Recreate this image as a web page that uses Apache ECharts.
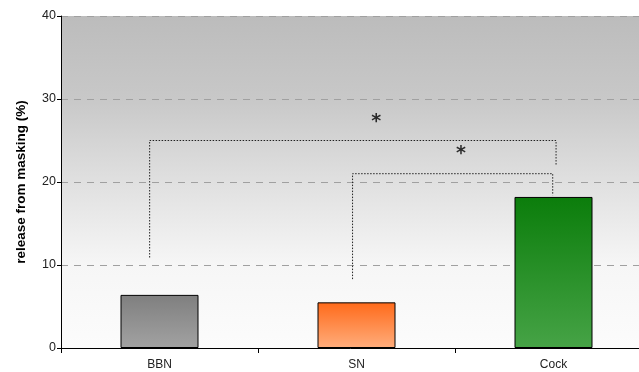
<!DOCTYPE html>
<html>
<head>
<meta charset="utf-8">
<script src="https://cdn.jsdelivr.net/npm/echarts@6/dist/echarts.min.js"></script>
<style>html,body{margin:0;padding:0;background:#fff}#c{width:639px;height:372px}</style>
</head>
<body>
<div id="c"></div>
<script>
var categories = ['BBN', 'SN', 'Cock'];
var values = [6.4, 5.5, 18.2];
var barTop = ['#7f7f7f', '#ff6a1a', '#0b7d0b'];
var barBottom = ['#a2a2a2', '#ffad7c', '#46a346'];
var yTicks = [0, 10, 20, 30, 40];
// significance brackets in (category index, value) units
var bracketOuter = [[-0.05, 10.9], [-0.05, 25], [2.013, 25], [2.013, 22]];
var bracketInner = [[0.98, 8.3], [0.98, 21], [1.996, 21], [1.996, 18.4]];
var stars = [[1.1, 27.7], [1.53, 23.8]];

var chart = echarts.init(document.getElementById('c'), null, {renderer: 'canvas'});
var G = echarts.graphic;
var font = 'Liberation Sans, Arial, sans-serif';

var barData = values.map(function (v, i) {
  return {
    value: v,
    itemStyle: {
      color: new G.LinearGradient(0, 0, 0, 1, [
        {offset: 0, color: barTop[i]},
        {offset: 1, color: barBottom[i]}
      ]),
      borderColor: '#000',
      borderWidth: 1
    }
  };
});

function bracketSeries(pts) {
  return {
    type: 'line',
    xAxisIndex: 1,
    data: pts,
    symbol: 'none',
    silent: true,
    animation: false,
    lineStyle: {color: '#222', width: 1, type: [1.5, 1.5]},
    z: 5
  };
}

chart.setOption({
  animation: false,
  grid: {
    left: 61, width: 591, top: 16, bottom: 24,
    outerBoundsMode: 'none',
    containLabel: false,
    show: true,
    borderWidth: 0,
    backgroundColor: new G.LinearGradient(0, 0, 0, 1, [
      {offset: 0, color: '#bcbcbc'},
      {offset: 0.25, color: '#c8c8c8'},
      {offset: 0.5, color: '#e0e0e0'},
      {offset: 0.75, color: '#f6f6f6'},
      {offset: 1, color: '#fcfcfc'}
    ])
  },
  xAxis: [{
    type: 'category',
    data: categories,
    boundaryGap: true,
    axisLine: {onZero: false, lineStyle: {color: '#000', width: 1}},
    axisTick: {show: true, length: 5, lineStyle: {color: '#000'}},
    axisLabel: {color: '#222', fontSize: 12, fontFamily: font, margin: 11}
  }, {
    type: 'value', min: -0.5, max: 2.5, show: false
  }],
  yAxis: {
    type: 'value',
    min: yTicks[0], max: yTicks[yTicks.length - 1], interval: 10,
    name: 'release from masking (%)',
    nameLocation: 'middle',
    nameGap: 33,
    nameTextStyle: {color: '#000', fontSize: 13.5, fontWeight: 'bold', fontFamily: font},
    axisLine: {show: true, onZero: false, lineStyle: {color: '#000', width: 1}},
    axisTick: {show: true, length: 4, lineStyle: {color: '#000'}},
    axisLabel: {color: '#222', fontSize: 12.5, fontFamily: font, margin: 5},
    splitLine: {show: true, lineStyle: {color: '#a0a0a0', width: 1, type: [7, 6]}}
  },
  series: [{
    type: 'bar',
    data: barData,
    barWidth: 78,
    z: 3
  },
  bracketSeries(bracketOuter),
  bracketSeries(bracketInner),
  {
    type: 'scatter',
    xAxisIndex: 1,
    data: stars,
    symbolSize: 1,
    itemStyle: {color: 'rgba(0,0,0,0)'},
    label: {
      show: true, position: 'inside', formatter: '*',
      fontSize: 19, fontWeight: 'bold', color: '#000', fontFamily: 'DejaVu Sans, sans-serif',
      offset: [0, 4]
    },
    z: 6
  }]
});
</script>
</body>
</html>
